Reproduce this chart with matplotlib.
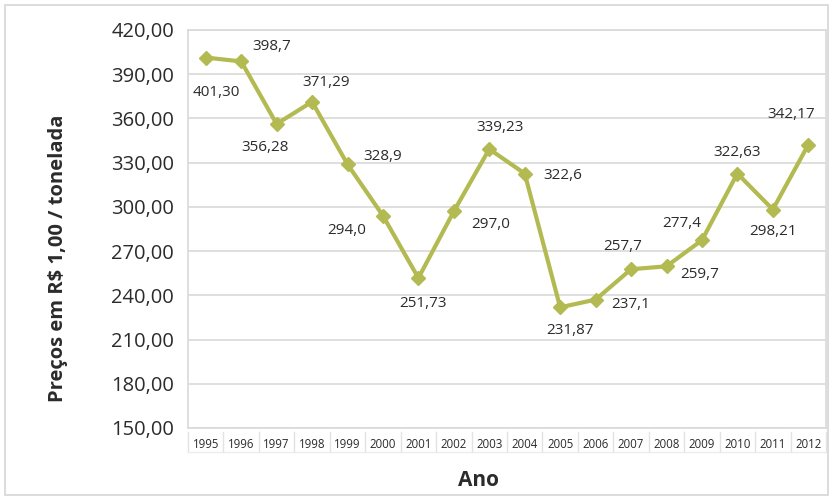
import matplotlib
matplotlib.use("Agg")
import matplotlib.pyplot as plt
import matplotlib.transforms as mtransforms
from matplotlib.patches import FancyBboxPatch
import numpy as np

plt.rcParams["font.family"] = ["Open Sans", "DejaVu Sans"]

# ── Data ─────────────────────────────────────────────────────────────────────
anos = ["1995", "1996", "1997", "1998", "1999", "2000", "2001", "2002", "2003",
        "2004", "2005", "2006", "2007", "2008", "2009", "2010", "2011", "2012"]
precos = [401.30, 398.7, 356.28, 371.29, 328.9, 294.0, 251.73, 297.0, 339.23,
          322.6, 231.87, 237.1, 257.7, 259.7, 277.4, 322.63, 298.21, 342.17]
rotulos = ["401,30", "398,7", "356,28", "371,29", "328,9", "294,0", "251,73",
           "297,0", "339,23", "322,6", "231,87", "237,1", "257,7", "259,7",
           "277,4", "322,63", "298,21", "342,17"]
# label offsets in pixels (dx, dy) relative to each point
offsets = [(11, -35), (31, 15), (-12, -24), (14, 19), (35, 8), (-36, -15),
           (5, -25), (37, -13), (11, 22), (38, -2), (10, -23), (35, -5),
           (-8, 23), (33, -8), (-20, 17), (0, 21), (0, -22), (-17, 30)]
yticks = [150, 180, 210, 240, 270, 300, 330, 360, 390, 420]

LINE = "#b3ba52"
TEXT = "#2b2b2b"
GRID = "#d9d9d9"

fig = plt.figure(figsize=(8.33, 4.99), dpi=100)
W, H = 833, 499
ax = fig.add_axes([188 / W, 1 - 428 / H, (826 - 188) / W, (428 - 30) / H])

# outer frame
fig.patches.append(FancyBboxPatch((5 / W, 4 / H), 823 / W, 490 / H,
                                  boxstyle="square,pad=0", transform=fig.transFigure,
                                  fill=False, edgecolor="#d6d6d6", linewidth=1.2))

x = np.arange(len(anos))
ax.plot(x, precos, color=LINE, linewidth=3, marker="D", markersize=7,
        markerfacecolor=LINE, markeredgecolor=LINE, zorder=3)

for xi, yi, lab, (dx, dy) in zip(x, precos, rotulos, offsets):
    ax.annotate(lab, (xi, yi), xytext=(dx, dy), textcoords="offset pixels",
                ha="center", va="center", fontsize=11, color=TEXT)

ax.set_xlim(-0.5, len(anos) - 0.5)
ax.set_ylim(150, 420)
ax.set_yticks(yticks)
ax.yaxis.set_major_formatter(plt.FuncFormatter(lambda v, _: f"{v:.2f}".replace(".", ",")))
ax.tick_params(axis="y", length=0, labelsize=14.5, labelcolor=TEXT, pad=10)
ax.grid(axis="y", color=GRID, linewidth=1.2)
ax.set_axisbelow(True)

ax.set_xticks(x)
ax.set_xticklabels(anos)
ax.tick_params(axis="x", length=0, labelsize=8.3, labelcolor=TEXT, pad=7)

for s in ax.spines.values():
    s.set_color(GRID)
    s.set_linewidth(1.2)

# category cell separators under the plot
trans = mtransforms.blended_transform_factory(ax.transData, ax.transAxes)
for b in np.arange(-0.5, len(anos) + 0.5, 1):
    ax.plot([b, b], [-0.01, -0.06], transform=trans, color="#e3e3e3",
            linewidth=1, clip_on=False)
ax.plot([-0.5, len(anos) - 0.5], [-0.06, -0.06], transform=trans, color="#ececec",
        linewidth=1, clip_on=False)

fig.text(58 / W, 1 - 258 / H, "Preços em R$ 1,00 / tonelada", rotation=90,
         ha="center", va="center", fontsize=14.5, fontweight="bold", color=TEXT)
fig.text(478 / W, 1 - 480 / H, "Ano", ha="center", va="center",
         fontsize=15, fontweight="bold", color=TEXT)

fig.savefig("out.png", dpi=100, facecolor="white")
